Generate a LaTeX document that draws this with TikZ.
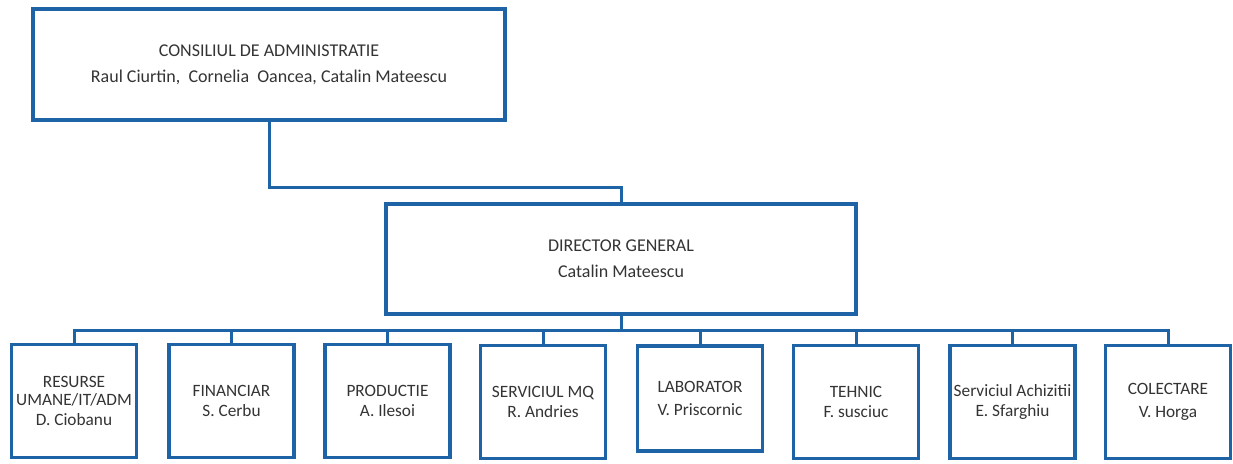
\documentclass[tikz,border=0pt]{standalone}
\usepackage{fontspec}
\setmainfont{Carlito}
\definecolor{orgblue}{RGB}{30,99,166}
\definecolor{orgtext}{RGB}{52,52,52}
\tikzset{
  box/.style={draw=orgblue, line width=3.5pt, fill=white, rectangle, inner sep=0pt,
    align=center, text=orgtext, font=\fontsize{17.3}{20}\selectfont},
  bigbox/.style={box, font=\fontsize{18}{26}\selectfont},
  link/.style={draw=orgblue, line width=3pt}
}
\begin{document}
\begin{tikzpicture}[x=1pt,y=-1pt]
\useasboundingbox (0,0) rectangle (1233,463);
\node[bigbox, minimum width=472pt, minimum height=111pt] (cda) at (269,64.5)
  {CONSILIUL DE ADMINISTRATIE\\Raul Ciurtin,\ \ Cornelia\ \ Oancea, Catalin Mateescu};
\node[bigbox, minimum width=470pt, minimum height=110pt] (dg) at (621,259)
  {DIRECTOR GENERAL\\Catalin Mateescu};
\tikzset{sub/.style={box, minimum width=125pt, minimum height=113pt}}
\node[sub] (b1) at (74,401) {RESURSE\\[-1.5pt]UMANE/IT/ADM\\D. Ciobanu};
\node[sub] (b2) at (231.5,401) {FINANCIAR\\S. Cerbu};
\node[sub] (b3) at (387.5,401) {PRODUCTIE\\A. Ilesoi};
\node[sub] (b4) at (543,402) {SERVICIUL MQ\\R. Andries};
\node[sub, minimum height=105pt] (b5) at (700,398.5) {LABORATOR\\[3pt]V. Priscornic};
\node[sub] (b6) at (856,402) {TEHNIC\\F. susciuc};
\node[sub] (b7) at (1012.5,402) {Serviciul Achizitii\\E. Sfarghiu};
\node[sub] (b8) at (1168,402) {COLECTARE\\[3pt]V. Horga};
\coordinate (j1) at (270,187);
\coordinate (bus) at (621,330);
\draw[link] (cda.south) |- (j1) -| (dg.north);
\draw[link] (dg.south) -- (bus);
\draw[link] (b1.north) |- (bus);
\draw[link] (b8.north) |- (bus);
\foreach \b in {b2,b3,b4,b5,b6,b7} \draw[link] (\b.north) -- (\b.north |- bus);
\end{tikzpicture}
\end{document}
